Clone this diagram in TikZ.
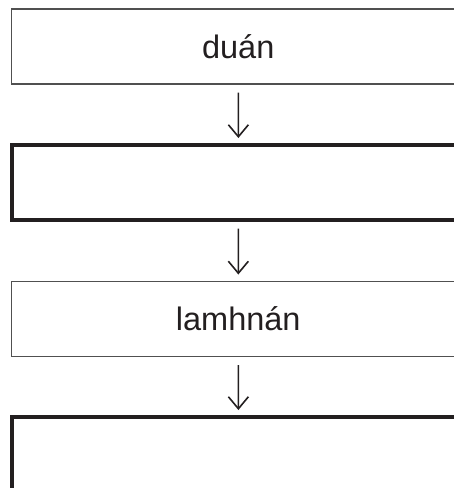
\documentclass[tikz,border=0pt]{standalone}
\usepackage{fontspec}
\setmainfont{Liberation Sans}
\usetikzlibrary{arrows.meta}
\definecolor{dark}{HTML}{231F20}
\definecolor{thin}{HTML}{505050}
\begin{document}
\begin{tikzpicture}[x=1pt,y=-1pt,
  lightbox/.style={draw=thin,line width=1.5pt,minimum width=453.5pt,minimum height=75pt,inner sep=0pt,outer sep=0pt,text=dark,font=\fontsize{32.5}{38}\selectfont},
  heavybox/.style={draw=dark,line width=4pt,minimum width=453pt,minimum height=75pt,inner sep=0pt,outer sep=0pt},
  arr/.style={draw=dark,line width=1.6pt,-{Straight Barb[length=12pt,width=20pt,line width=1.6pt]},shorten <=8.5pt,shorten >=7pt}]
\useasboundingbox (0,0) rectangle (454,488);
\node[lightbox] (b1) at (238.25,46.5) {duán};
\node[heavybox] (b2) at (238.5,182.5) {};
\node[lightbox] (b3) at (238.25,319) {lamhnán};
\node[heavybox] (b4) at (238.5,454.5) {};
\draw[arr] (b1) -- (b2);
\draw[arr] (b2) -- (b3);
\draw[arr] (b3) -- (b4);
\end{tikzpicture}
\end{document}
